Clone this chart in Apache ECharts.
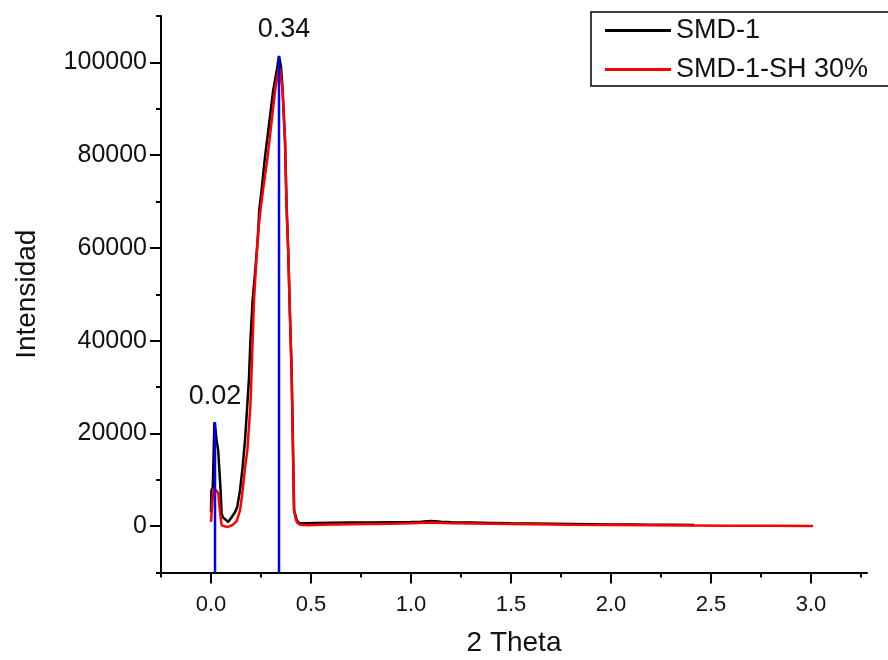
<!DOCTYPE html>
<html>
<head>
<meta charset="utf-8">
<script src="https://cdn.jsdelivr.net/npm/echarts@6/dist/echarts.min.js"></script>
<style>
html,body{margin:0;padding:0;background:#fff;}
#chart{width:888px;height:660px;}
</style>
</head>
<body>
<div id="chart"></div>
<script>
// ---- data ----
const smd1X = [0.000,0.002,0.009,0.017,0.020,0.028,0.036,0.041,0.048,0.053,0.060,0.070,0.086,0.103,0.120,0.131,0.145,0.158,0.170,0.181,0.190,0.197,0.208,0.223,0.236,0.241,0.253,0.270,0.291,0.311,0.330,0.340,0.350,0.358,0.370,0.378,0.386,0.395,0.403,0.411,0.415,0.420,0.428,0.440,0.470,0.520,0.600,0.700,0.800,0.900,1.000,1.050,1.100,1.150,1.200,1.300,1.400,1.500,1.600,1.700,1.800,1.900,2.000,2.100,2.200,2.300,2.415];
const smd1Y = [3000,7700,8400,22400,21800,18500,16300,12700,7700,2700,1900,1600,900,1900,3000,4100,7700,12700,18500,25700,32000,40000,48700,55900,63200,68100,72400,79600,86900,94000,98500,101400,99000,94000,83200,68800,59500,45100,33600,14200,3400,2700,1400,650,600,700,750,800,800,850,900,950,1100,950,850,800,700,600,550,500,450,400,350,350,300,300,250];

const smdshX = [0.000,0.005,0.0115,0.020,0.030,0.0365,0.045,0.0535,0.080,0.095,0.110,0.1285,0.145,0.155,0.170,0.182,0.197,0.202,0.215,0.235,0.247,0.260,0.283,0.321,0.335,0.340,0.345,0.358,0.370,0.378,0.386,0.395,0.403,0.411,0.416,0.422,0.430,0.445,0.480,0.550,0.700,0.900,1.000,1.100,1.200,1.400,1.600,1.800,2.000,2.200,2.400,2.600,2.800,3.010];
const smdshY = [900,4000,8100,7800,7500,7000,3000,150,-200,0,300,1100,3400,6500,12500,16500,26000,32000,48700,63200,68000,72400,79600,94000,98000,99000,98500,94000,83200,68800,59500,45100,33600,14200,3400,1800,800,300,200,300,400,500,600,800,600,500,400,300,250,200,150,100,100,50];

const peakX = [0.02, 0.34];
const peakY = [22400, 101400];
const peakLabels = ['0.02', '0.34'];

const seriesNames = ['SMD-1', 'SMD-1-SH 30%'];

const xMin = -0.25, xMax = 3.28;
const xMajorTicks = [0, 0.5, 1.0, 1.5, 2.0, 2.5, 3.0];
const xMinorTicks = [-0.25, 0.25, 0.75, 1.25, 1.75, 2.25, 2.75, 3.25];
const yMin = -10000, yMax = 110000;
const yMajorTicks = [0, 20000, 40000, 60000, 80000, 100000];
const yMinorTicks = [-10000, 10000, 30000, 50000, 70000, 90000, 110000];

// ---- chart ----
const FONT = 'Liberation Sans, Arial, sans-serif';
const zip = (xs, ys) => xs.map((x, i) => [x, ys[i]]);

const peakSeries = peakX.map((x, i) => ({
  type: 'line',
  name: 'peak' + i,
  symbol: 'circle',
  symbolSize: 1,
  showSymbol: true,
  silent: true,
  z: 5,
  itemStyle: { color: 'rgba(0,0,0,0)' },
  lineStyle: { color: '#0000ff', width: 2.5 },
  data: [
    { value: [x, yMin], label: { show: false } },
    { value: [x, peakY[i]],
      label: {
        show: true, position: 'top', distance: 12,
        offset: i === 1 ? [5, 0] : [0, 0],
        formatter: peakLabels[i], fontSize: 27, fontFamily: FONT, color: '#111'
      } }
  ]
}));

const tickLine = { color: '#000', width: 2 };

const option = {
  animation: false,
  backgroundColor: '#fff',
  grid: { left: 161, right: 21, top: 16, bottom: 87.5, containLabel: false, outerBoundsMode: 'none' },
  legend: {
    orient: 'vertical',
    left: 591, top: 12,
    padding: [5, 30, 3, 14],
    itemGap: 12,
    itemWidth: 66, itemHeight: 3,
    borderColor: '#000', borderWidth: 1.5,
    textStyle: { fontSize: 27, fontFamily: FONT, color: '#111', lineHeight: 24 },
    data: [
      { name: seriesNames[0], icon: 'rect', itemStyle: { color: '#000' } },
      { name: seriesNames[1], icon: 'rect', itemStyle: { color: '#ff0000' } }
    ]
  },
  xAxis: [{
    type: 'value',
    min: xMin, max: xMax,
    name: '2 Theta', nameLocation: 'middle', nameGap: 57,
    nameTextStyle: { fontSize: 28, fontFamily: FONT, color: '#111' },
    axisLine: { show: true, onZero: false, lineStyle: tickLine },
    axisTick: { show: true, inside: false, length: 11, lineStyle: tickLine, customValues: xMajorTicks },
    splitLine: { show: false },
    axisLabel: {
      customValues: xMajorTicks,
      fontSize: 22, fontFamily: FONT, color: '#111', margin: 21,
      formatter: v => v.toFixed(1)
    }
  }, {
    type: 'value',
    position: 'bottom', offset: 0,
    min: xMin, max: xMax,
    axisLine: { show: false, onZero: false },
    axisTick: { show: true, inside: false, length: 5, lineStyle: tickLine, customValues: xMinorTicks },
    axisLabel: { show: false },
    splitLine: { show: false }
  }],
  yAxis: [{
    type: 'value',
    min: yMin, max: yMax,
    name: 'Intensidad', nameLocation: 'middle', nameGap: 120, nameRotate: 90,
    nameTextStyle: { fontSize: 28, fontFamily: FONT, color: '#111' },
    axisLine: { show: true, onZero: false, lineStyle: tickLine },
    axisTick: { show: true, inside: false, length: 11, lineStyle: tickLine, customValues: yMajorTicks },
    splitLine: { show: false },
    axisLabel: {
      customValues: yMajorTicks,
      fontSize: 25, fontFamily: FONT, color: '#111', margin: 14,
      formatter: v => String(v)
    }
  }, {
    type: 'value',
    position: 'left', offset: 0,
    min: yMin, max: yMax,
    axisLine: { show: false, onZero: false },
    axisTick: { show: true, inside: false, length: 5, lineStyle: tickLine, customValues: yMinorTicks },
    axisLabel: { show: false },
    splitLine: { show: false }
  }],
  series: [
    { type: 'line', name: seriesNames[0], symbol: 'none', z: 3,
      lineStyle: { color: '#000', width: 2.5 }, itemStyle: { color: '#000' },
      data: zip(smd1X, smd1Y) },
    { type: 'line', name: seriesNames[1], symbol: 'none', z: 4,
      lineStyle: { color: '#ff0000', width: 2.5 }, itemStyle: { color: '#ff0000' },
      data: zip(smdshX, smdshY) }
  ].concat(peakSeries)
};

const chart = echarts.init(document.getElementById('chart'), null, { renderer: 'canvas' });
chart.setOption(option);
</script>
</body>
</html>
